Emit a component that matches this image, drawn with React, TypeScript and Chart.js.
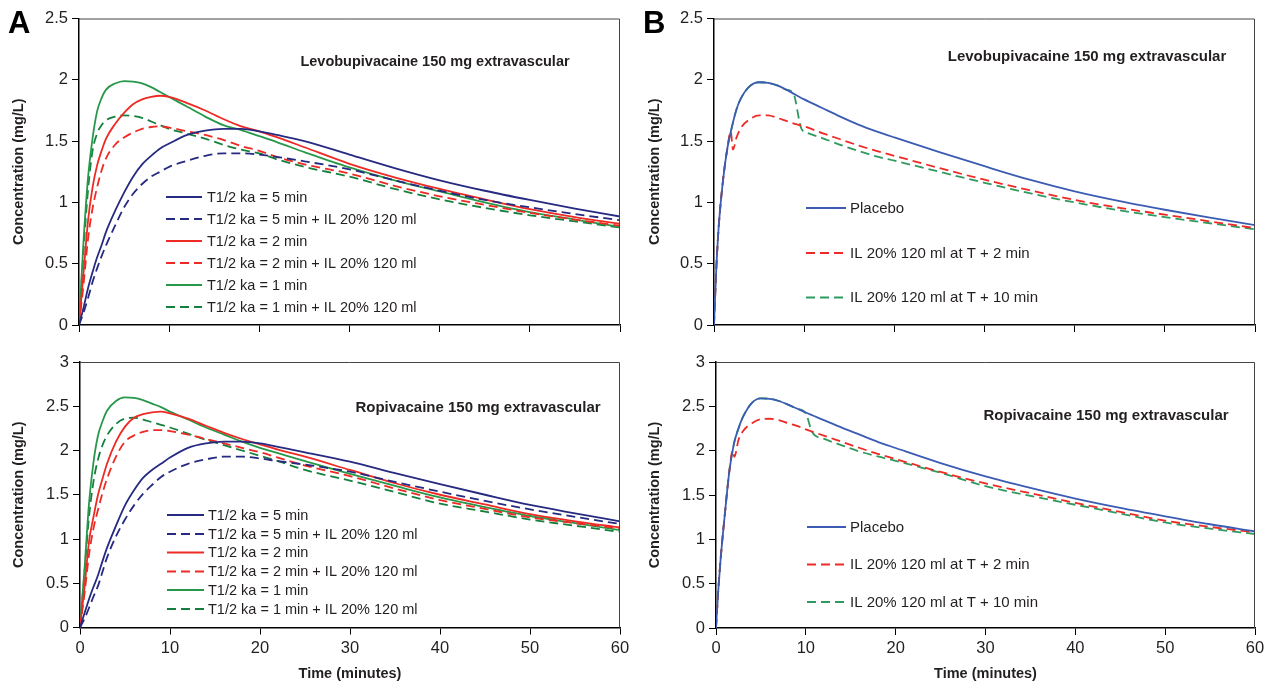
import React, { useEffect, useRef } from 'react';
import { Chart, registerables } from 'chart.js';

Chart.register(...registerables);

const FONT = '"Liberation Sans", Arial, Helvetica, sans-serif';
const TEXT = '#231f20';

// ---------- Panel A (absorption half-life comparison) ----------
const timeA = [0, 0.5, 1, 1.5, 2, 2.5, 3, 4, 5, 6, 7, 8, 9, 10, 12, 14, 16, 18, 20, 22, 25, 30, 35, 40, 45, 50, 55, 60];

const levoKa5 = [0, 0.14, 0.30, 0.43, 0.55, 0.65, 0.76, 0.93, 1.08, 1.21, 1.31, 1.38, 1.44, 1.48, 1.55, 1.585, 1.60, 1.60, 1.58, 1.55, 1.50, 1.39, 1.28, 1.18, 1.095, 1.02, 0.95, 0.885];
const levoKa5IL = [0, 0.10, 0.22, 0.35, 0.46, 0.56, 0.65, 0.81, 0.96, 1.07, 1.15, 1.21, 1.25, 1.29, 1.34, 1.38, 1.40, 1.40, 1.39, 1.37, 1.335, 1.27, 1.18, 1.095, 1.02, 0.96, 0.905, 0.855];
const levoKa2 = [0, 0.42, 0.85, 1.12, 1.30, 1.42, 1.52, 1.64, 1.73, 1.80, 1.84, 1.86, 1.87, 1.86, 1.81, 1.75, 1.68, 1.62, 1.58, 1.53, 1.45, 1.315, 1.205, 1.11, 1.025, 0.945, 0.88, 0.825];
const levoKa2IL = [0, 0.33, 0.70, 0.95, 1.12, 1.26, 1.36, 1.47, 1.53, 1.57, 1.60, 1.615, 1.62, 1.61, 1.58, 1.55, 1.51, 1.46, 1.42, 1.37, 1.31, 1.235, 1.135, 1.05, 0.98, 0.915, 0.86, 0.81];
const levoKa1 = [0, 0.68, 1.20, 1.52, 1.74, 1.85, 1.92, 1.97, 1.99, 1.985, 1.97, 1.94, 1.90, 1.86, 1.78, 1.70, 1.63, 1.59, 1.54, 1.49, 1.41, 1.285, 1.18, 1.09, 1.00, 0.92, 0.86, 0.80];
const levoKa1IL = [0, 0.60, 1.10, 1.42, 1.56, 1.63, 1.67, 1.70, 1.71, 1.705, 1.69, 1.66, 1.63, 1.60, 1.56, 1.52, 1.47, 1.43, 1.40, 1.35, 1.29, 1.21, 1.11, 1.025, 0.955, 0.895, 0.845, 0.795];

const ropiKa5 = [0, 0.16, 0.32, 0.46, 0.59, 0.75, 0.90, 1.15, 1.38, 1.55, 1.69, 1.78, 1.85, 1.92, 2.03, 2.08, 2.10, 2.10, 2.08, 2.04, 1.98, 1.875, 1.745, 1.62, 1.50, 1.385, 1.29, 1.20];
const ropiKa5IL = [0, 0.10, 0.22, 0.35, 0.47, 0.63, 0.79, 1.03, 1.22, 1.38, 1.51, 1.61, 1.70, 1.76, 1.85, 1.90, 1.93, 1.93, 1.91, 1.88, 1.84, 1.76, 1.645, 1.535, 1.43, 1.335, 1.25, 1.17];
const ropiKa2 = [0, 0.45, 0.97, 1.25, 1.50, 1.68, 1.85, 2.10, 2.27, 2.37, 2.41, 2.43, 2.44, 2.42, 2.36, 2.28, 2.20, 2.13, 2.07, 2.01, 1.93, 1.78, 1.63, 1.50, 1.39, 1.28, 1.20, 1.13];
const ropiKa2IL = [0, 0.38, 0.82, 1.12, 1.33, 1.52, 1.68, 1.93, 2.10, 2.17, 2.21, 2.23, 2.23, 2.22, 2.18, 2.13, 2.08, 2.03, 1.98, 1.92, 1.83, 1.71, 1.57, 1.44, 1.34, 1.245, 1.18, 1.12];
const ropiKa1 = [0, 0.66, 1.40, 1.87, 2.17, 2.33, 2.45, 2.56, 2.60, 2.595, 2.57, 2.53, 2.49, 2.44, 2.35, 2.26, 2.18, 2.10, 2.03, 1.97, 1.88, 1.735, 1.60, 1.47, 1.36, 1.26, 1.18, 1.10];
const ropiKa1IL = [0, 0.62, 1.25, 1.65, 1.90, 2.06, 2.17, 2.30, 2.36, 2.37, 2.35, 2.32, 2.29, 2.26, 2.19, 2.12, 2.06, 2.00, 1.94, 1.88, 1.78, 1.66, 1.53, 1.40, 1.31, 1.22, 1.15, 1.08];

// ---------- Panel B (timing of lipid emulsion) ----------
const timePlacebo = [0, 0.25, 0.5, 1, 1.5, 2, 2.5, 3, 4, 5, 6, 7, 8, 9, 10, 12, 14, 16, 18, 20, 25, 30, 35, 40, 45, 50, 55, 60];
const levoPlacebo = [0, 0.45, 0.78, 1.18, 1.45, 1.62, 1.76, 1.85, 1.95, 1.98, 1.975, 1.955, 1.92, 1.88, 1.84, 1.77, 1.70, 1.635, 1.58, 1.53, 1.41, 1.295, 1.185, 1.09, 1.01, 0.94, 0.875, 0.815];
const timeLevoIL2 = [0, 0.25, 0.5, 1, 1.5, 1.85, 2.1, 2.5, 3, 4, 5, 6, 7, 8, 9, 10, 12, 14, 16, 18, 20, 25, 30, 35, 40, 45, 50, 55, 60];
const levoIL2 = [0, 0.45, 0.78, 1.18, 1.45, 1.58, 1.43, 1.53, 1.61, 1.68, 1.71, 1.71, 1.69, 1.665, 1.64, 1.62, 1.565, 1.515, 1.465, 1.42, 1.38, 1.28, 1.185, 1.10, 1.02, 0.955, 0.90, 0.845, 0.79];
const timeLevoIL10 = [0, 0.25, 0.5, 1, 1.5, 2, 2.5, 3, 4, 5, 6, 7, 8, 8.8, 9.7, 10.4, 12, 14, 16, 18, 20, 25, 30, 35, 40, 45, 50, 55, 60];
const levoIL10 = [0, 0.45, 0.78, 1.18, 1.45, 1.62, 1.76, 1.85, 1.95, 1.98, 1.975, 1.955, 1.92, 1.89, 1.60, 1.565, 1.525, 1.47, 1.42, 1.375, 1.34, 1.25, 1.16, 1.075, 1.00, 0.935, 0.88, 0.83, 0.78];

const ropiPlacebo = [0, 0.42, 0.76, 1.30, 1.78, 2.08, 2.25, 2.38, 2.54, 2.59, 2.585, 2.56, 2.52, 2.475, 2.43, 2.345, 2.26, 2.18, 2.10, 2.03, 1.86, 1.71, 1.58, 1.46, 1.355, 1.26, 1.17, 1.09];
const timeRopiIL2 = [0, 0.25, 0.5, 1, 1.5, 1.85, 2.05, 2.5, 3, 4, 5, 6, 7, 8, 9, 10, 12, 14, 16, 18, 20, 25, 30, 35, 40, 45, 50, 55, 60];
const ropiIL2 = [0, 0.42, 0.76, 1.30, 1.78, 2.00, 1.93, 2.12, 2.22, 2.31, 2.355, 2.36, 2.345, 2.31, 2.28, 2.24, 2.17, 2.10, 2.03, 1.965, 1.905, 1.76, 1.63, 1.52, 1.41, 1.31, 1.21, 1.14, 1.08];
const timeRopiIL10 = [0, 0.25, 0.5, 1, 1.5, 2, 2.5, 3, 4, 5, 6, 7, 8, 9, 10, 10.7, 12, 14, 16, 18, 20, 25, 30, 35, 40, 45, 50, 55, 60];
const ropiIL10 = [0, 0.42, 0.76, 1.30, 1.78, 2.08, 2.25, 2.38, 2.54, 2.59, 2.585, 2.56, 2.52, 2.475, 2.42, 2.21, 2.135, 2.06, 1.99, 1.935, 1.885, 1.75, 1.60, 1.49, 1.39, 1.29, 1.19, 1.12, 1.06];

// ---------- labels ----------
const seriesLabelsA = [
  'T1/2 ka = 5 min',
  'T1/2 ka = 5 min + IL 20% 120 ml',
  'T1/2 ka = 2 min',
  'T1/2 ka = 2 min + IL 20% 120 ml',
  'T1/2 ka = 1 min',
  'T1/2 ka = 1 min + IL 20% 120 ml',
];
const seriesLabelsB = ['Placebo', 'IL 20% 120 ml at T + 2 min', 'IL 20% 120 ml at T + 10 min'];
const xTicks = [0, 10, 20, 30, 40, 50, 60];
const titleLevo = 'Levobupivacaine 150 mg extravascular';
const titleRopi = 'Ropivacaine 150 mg extravascular';

const NAVY = '#262a80';
const RED = '#ee2a24';
const GREEN = '#27984a';
const GREEN_D = '#15803e';
const PLACEBO = '#3b5cb2';
const GREEN_B = '#2f9a60';
const DASH = [9, 5];

function pts(xs: number[], ys: number[]) {
  return xs.map((x, i) => ({ x, y: ys[i] }));
}

function ds(label: string, xs: number[], ys: number[], color: string, dashed: boolean) {
  return {
    label,
    data: pts(xs, ys),
    borderColor: color,
    backgroundColor: color,
    borderWidth: 1.8,
    borderDash: dashed ? DASH : [],
    pointRadius: 0,
    fill: false,
    tension: 0,
    cubicInterpolationMode: 'monotone' as const,
  };
}

const overlayPlugin = {
  id: 'overlay',
  afterDraw(chart: any, _args: any, opts: any) {
    const { ctx, chartArea: a } = chart;
    ctx.save();
    // top and right frame
    ctx.strokeStyle = '#444';
    ctx.lineWidth = 1;
    ctx.setLineDash([]);
    ctx.beginPath();
    ctx.moveTo(a.left, a.top + 0.5);
    ctx.lineTo(a.right - 0.5, a.top + 0.5);
    ctx.lineTo(a.right - 0.5, a.bottom);
    ctx.stroke();
    // annotation
    ctx.fillStyle = TEXT;
    ctx.font = `bold ${opts.titleSize}px ${FONT}`;
    ctx.textAlign = 'center';
    ctx.textBaseline = 'middle';
    ctx.fillText(opts.title, opts.titleX - opts.offX, opts.titleY - opts.offY);
    // legend
    ctx.font = `${opts.legendSize}px ${FONT}`;
    ctx.textAlign = 'left';
    chart.data.datasets.forEach((d: any, i: number) => {
      const y = opts.rows[i] - opts.offY;
      const x0 = opts.legendX - opts.offX;
      ctx.strokeStyle = d.borderColor;
      ctx.lineWidth = d.borderWidth;
      ctx.setLineDash(d.borderDash || []);
      ctx.beginPath();
      ctx.moveTo(x0, y);
      ctx.lineTo(x0 + opts.lineLen, y);
      ctx.stroke();
      ctx.setLineDash([]);
      ctx.fillStyle = TEXT;
      ctx.fillText(d.label, x0 + opts.lineLen + opts.gap, y + 0.5);
    });
    ctx.restore();
  },
};

type PanelCfg = {
  x: number; y: number; w: number; h: number;
  area: { l: number; t: number; r: number; b: number };
  ymax: number;
  bottom: boolean;
  datasets: any[];
  overlay: any;
};

const panels: PanelCfg[] = [
  {
    x: 0, y: 0, w: 636, h: 342,
    area: { l: 79, t: 18.5, r: 620, b: 325 },
    ymax: 2.5, bottom: false,
    datasets: [
      ds(seriesLabelsA[0], timeA, levoKa5, NAVY, false),
      ds(seriesLabelsA[1], timeA, levoKa5IL, NAVY, true),
      ds(seriesLabelsA[2], timeA, levoKa2, RED, false),
      ds(seriesLabelsA[3], timeA, levoKa2IL, RED, true),
      ds(seriesLabelsA[4], timeA, levoKa1, GREEN, false),
      ds(seriesLabelsA[5], timeA, levoKa1IL, GREEN_D, true),
    ],
    overlay: {
      title: titleLevo, titleX: 435, titleY: 62, titleSize: 14.5,
      legendX: 166, lineLen: 36, gap: 5, legendSize: 14.5,
      rows: [197, 219, 241, 263, 285, 307],
    },
  },
  {
    x: 636, y: 0, w: 636, h: 342,
    area: { l: 714, t: 18.5, r: 1255, b: 325 },
    ymax: 2.5, bottom: false,
    datasets: [
      ds(seriesLabelsB[0], timePlacebo, levoPlacebo, PLACEBO, false),
      ds(seriesLabelsB[1], timeLevoIL2, levoIL2, RED, true),
      ds(seriesLabelsB[2], timeLevoIL10, levoIL10, GREEN_B, true),
    ],
    overlay: {
      title: titleLevo, titleX: 1087, titleY: 57, titleSize: 15,
      legendX: 806, lineLen: 40, gap: 4, legendSize: 15,
      rows: [208, 253, 297.5],
    },
  },
  {
    x: 0, y: 342, w: 636, h: 342,
    area: { l: 80, t: 362, r: 620, b: 627.5 },
    ymax: 3, bottom: true,
    datasets: [
      ds(seriesLabelsA[0], timeA, ropiKa5, NAVY, false),
      ds(seriesLabelsA[1], timeA, ropiKa5IL, NAVY, true),
      ds(seriesLabelsA[2], timeA, ropiKa2, RED, false),
      ds(seriesLabelsA[3], timeA, ropiKa2IL, RED, true),
      ds(seriesLabelsA[4], timeA, ropiKa1, GREEN, false),
      ds(seriesLabelsA[5], timeA, ropiKa1IL, GREEN_D, true),
    ],
    overlay: {
      title: titleRopi, titleX: 478, titleY: 408, titleSize: 15,
      legendX: 167, lineLen: 37, gap: 4, legendSize: 14.5,
      rows: [515, 534, 552.5, 571.5, 590, 609],
    },
  },
  {
    x: 636, y: 342, w: 636, h: 342,
    area: { l: 716, t: 362, r: 1255, b: 628 },
    ymax: 3, bottom: true,
    datasets: [
      ds(seriesLabelsB[0], timePlacebo, ropiPlacebo, PLACEBO, false),
      ds(seriesLabelsB[1], timeRopiIL2, ropiIL2, RED, true),
      ds(seriesLabelsB[2], timeRopiIL10, ropiIL10, GREEN_B, true),
    ],
    overlay: {
      title: titleRopi, titleX: 1106, titleY: 416, titleSize: 15,
      legendX: 807, lineLen: 39, gap: 4, legendSize: 15,
      rows: [527, 564.5, 602],
    },
  },
];

function Panel({ cfg }: { cfg: PanelCfg }) {
  const ref = useRef<HTMLCanvasElement>(null);
  useEffect(() => {
    const yW = cfg.area.l - cfg.x;
    const xH = cfg.y + cfg.h - cfg.area.b;
    const padTop = cfg.area.t - cfg.y;
    const padRight = cfg.x + cfg.w - cfg.area.r;
    const tickFont = { family: FONT, size: 16.5 };
    const chart = new Chart(ref.current as HTMLCanvasElement, {
      type: 'line',
      data: { datasets: cfg.datasets },
      plugins: [overlayPlugin],
      options: {
        animation: false,
        responsive: false,
        maintainAspectRatio: false,
        events: [],
        layout: { padding: { left: 0, top: padTop, right: padRight, bottom: 0 } },
        plugins: {
          legend: { display: false },
          tooltip: { enabled: false },
          overlay: { ...cfg.overlay, offX: cfg.x, offY: cfg.y },
        } as any,
        scales: {
          x: {
            type: 'linear',
            min: 0,
            max: 60,
            afterBuildTicks: (s: any) => { s.ticks = xTicks.map((v) => ({ value: v })); },
            ticks: { display: cfg.bottom, font: tickFont, color: TEXT, padding: 4, maxRotation: 0, callback: (v: any) => `${v}` },
            grid: { drawOnChartArea: false, drawTicks: true, tickLength: 7, tickColor: '#000', tickWidth: 1 },
            border: { display: true, color: '#000', width: 1.5 },
            title: {
              display: cfg.bottom,
              text: 'Time (minutes)',
              color: TEXT,
              font: { family: FONT, size: 14.5, weight: 'bold' },
              padding: { top: 0, bottom: 1 },
            },
            afterFit: (s: any) => { s.height = xH; },
          },
          y: {
            type: 'linear',
            min: 0,
            max: cfg.ymax,
            ticks: { stepSize: 0.5, font: tickFont, color: TEXT, padding: 4, callback: (v: any) => `${v}` },
            grid: { drawOnChartArea: false, drawTicks: true, tickLength: 7, tickColor: '#000', tickWidth: 1 },
            border: { display: true, color: '#000', width: 1.5 },
            title: {
              display: true,
              text: 'Concentration (mg/L)',
              color: TEXT,
              font: { family: FONT, size: 14.5, weight: 'bold' },
              padding: { top: 10, bottom: 0 },
            },
            afterFit: (s: any) => { s.width = yW; },
          },
        },
      } as any,
    });
    return () => chart.destroy();
  }, []);
  return (
    <canvas
      ref={ref}
      width={cfg.w}
      height={cfg.h}
      style={{ position: 'absolute', left: cfg.x, top: cfg.y, width: cfg.w, height: cfg.h }}
    />
  );
}

export default function App() {
  const letter: React.CSSProperties = {
    position: 'absolute',
    fontFamily: FONT,
    fontWeight: 'bold',
    fontSize: 31,
    lineHeight: '31px',
    color: '#000',
  };
  return (
    <div style={{ position: 'absolute', left: 0, top: 0, width: 1272, height: 684, background: '#fff', overflow: 'hidden' }}>
      {panels.map((p, i) => (
        <Panel key={i} cfg={p} />
      ))}
      <div style={{ ...letter, left: 8, top: 7 }}>A</div>
      <div style={{ ...letter, left: 643, top: 7 }}>B</div>
    </div>
  );
}
